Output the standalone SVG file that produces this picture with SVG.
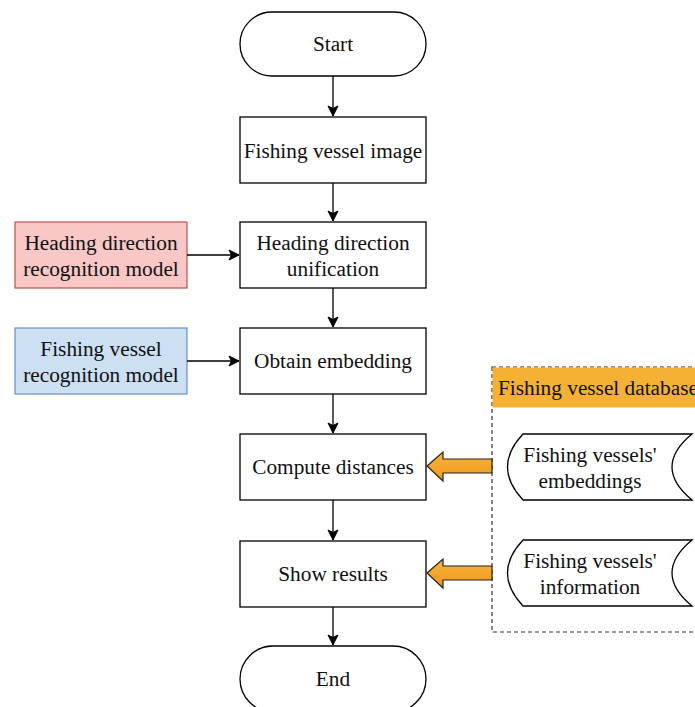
<svg xmlns="http://www.w3.org/2000/svg" width="695" height="707" viewBox="0 0 695 707">
<defs>
<marker id="ah" markerWidth="12" markerHeight="12" refX="11" refY="6" orient="auto" markerUnits="userSpaceOnUse">
<path d="M1,1 L11,6 L1,11 L3.5,6 Z" fill="#000" stroke="#000" stroke-width="1"/>
</marker>
<linearGradient id="og" x1="0" y1="0" x2="0" y2="1">
<stop offset="0" stop-color="#f7b33e"/>
<stop offset="1" stop-color="#f09a1a"/>
</linearGradient>
</defs>
<style>
.n{fill:#fff;stroke:#000;stroke-width:1.3}
.t{font-family:"Liberation Serif","Times New Roman",serif;font-size:21.3px;fill:#111;text-anchor:middle;dominant-baseline:central}
.c{stroke:#000;stroke-width:1.3;fill:none;marker-end:url(#ah)}
.ba{fill:url(#og);stroke:#222;stroke-width:1.2;stroke-linejoin:miter}
</style>
<rect width="695" height="707" fill="#fff"/>
<g id="database">
<rect x="492" y="367" width="220" height="265" fill="#fff" stroke="#333" stroke-width="1.2" stroke-dasharray="4,3"/>
<rect x="492.5" y="367.5" width="203" height="40" fill="#f5b133"/>
<text class="t" x="498" y="388" style="text-anchor:start">Fishing vessel database</text>
</g>
<g id="start">
<rect class="n" x="240" y="12" width="186" height="64" rx="32" ry="32"/>
<text class="t" x="333" y="44">Start</text>
</g>
<g id="image">
<rect class="n" x="240" y="117" width="186" height="66"/>
<text class="t" x="333" y="151">Fishing vessel image</text>
</g>
<g id="unification">
<rect class="n" x="240" y="222" width="186" height="66"/>
<text class="t" x="333" y="243">Heading direction</text>
<text class="t" x="333" y="269">unification</text>
</g>
<g id="embedding">
<rect class="n" x="240" y="328" width="186" height="66"/>
<text class="t" x="333" y="361">Obtain embedding</text>
</g>
<g id="distances">
<rect class="n" x="240" y="434" width="186" height="66"/>
<text class="t" x="333" y="467">Compute distances</text>
</g>
<g id="results">
<rect class="n" x="240" y="541" width="186" height="66"/>
<text class="t" x="333" y="574">Show results</text>
</g>
<g id="end">
<rect class="n" x="240" y="646" width="186" height="66" rx="33" ry="33"/>
<text class="t" x="333" y="679">End</text>
</g>
<g id="heading-model">
<rect x="15" y="222" width="172" height="66" fill="#f8c7c6" stroke="#b85450" stroke-width="1.2"/>
<text class="t" x="101" y="243">Heading direction</text>
<text class="t" x="101" y="269">recognition model</text>
</g>
<g id="vessel-model">
<rect x="15" y="328" width="172" height="66" fill="#cddff2" stroke="#6c8ebf" stroke-width="1.2"/>
<text class="t" x="101" y="349">Fishing vessel</text>
<text class="t" x="101" y="375">recognition model</text>
</g>
<g id="stored-embeddings">
<path class="n" d="M523,434 L692,434 Q652,467 692,500 L523,500 Q492,467 523,434 Z"/>
<text class="t" x="590" y="455">Fishing vessels'</text>
<text class="t" x="590" y="481">embeddings</text>
</g>
<g id="stored-information">
<path class="n" d="M523,540 L692,540 Q652,573 692,606 L523,606 Q492,573 523,540 Z"/>
<text class="t" x="590" y="561">Fishing vessels'</text>
<text class="t" x="590" y="587">information</text>
</g>
<g id="connectors">
<line class="c" x1="333" y1="76" x2="333" y2="116"/>
<line class="c" x1="333" y1="183" x2="333" y2="221"/>
<line class="c" x1="333" y1="288" x2="333" y2="327"/>
<line class="c" x1="333" y1="394" x2="333" y2="433"/>
<line class="c" x1="333" y1="500" x2="333" y2="540"/>
<line class="c" x1="333" y1="607" x2="333" y2="645"/>
<line class="c" x1="187" y1="255" x2="239" y2="255"/>
<line class="c" x1="187" y1="361" x2="239" y2="361"/>
<path class="ba" d="M427,466 L443,452 L443,459 L492,459 L492,473 L443,473 L443,481 Z"/>
<path class="ba" d="M427,573 L443,559 L443,566 L492,566 L492,580 L443,580 L443,588 Z"/>
</g>
</svg>
